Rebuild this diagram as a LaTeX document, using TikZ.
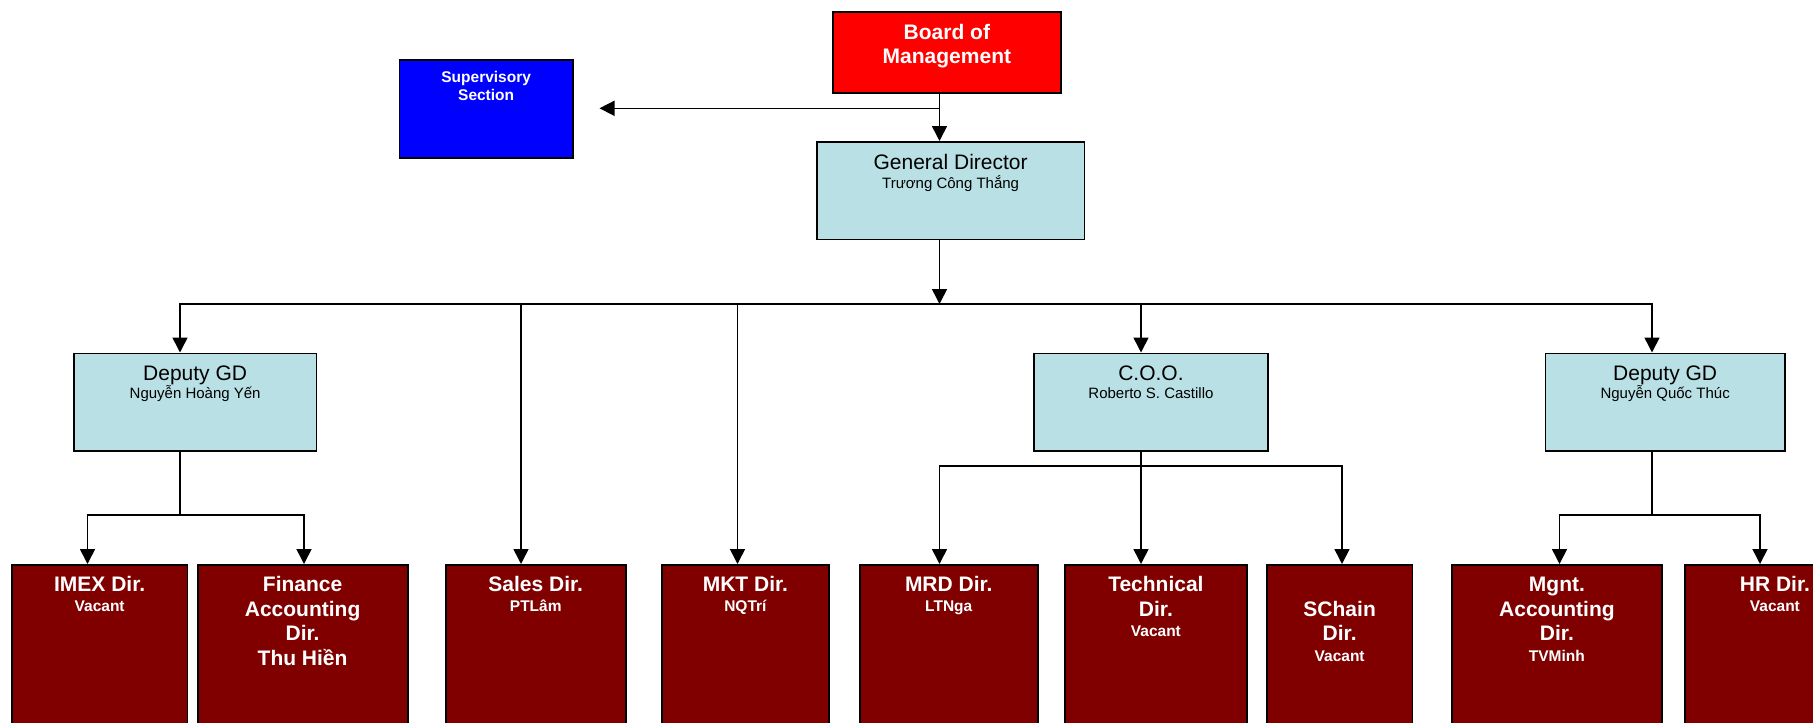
\documentclass[tikz,border=0pt]{standalone}
\usepackage{fontspec}
\setmainfont{Liberation Sans}
\usetikzlibrary{arrows.meta}

\definecolor{boardred}{RGB}{255,0,0}
\definecolor{supblue}{RGB}{0,0,255}
\definecolor{paleblue}{RGB}{185,224,228}
\definecolor{deptred}{RGB}{128,0,0}

\newcommand{\who}[1]{{\fontsize{15}{18}\selectfont #1}}
\newcommand{\held}[1]{{\fontsize{15.5}{18}\selectfont #1}}

\begin{document}
\begin{tikzpicture}[x=1pt, y=-1pt,
	wire/.style={line width=1.6pt},
	link/.style={wire, -{Triangle[width=15pt,length=15pt]}},
	unit/.style={draw=black, line width=1.8pt, inner sep=0pt, anchor=north west},
	dept/.style={unit, fill=deptred, minimum height=200pt},
	office/.style={unit, fill=paleblue, minimum height=97.5pt},
	caption/.style={anchor=base, align=flush center, text width=240pt, inner sep=0pt},
	boardtxt/.style={caption, text=white, font=\bfseries\fontsize{21}{24}\selectfont},
	suptxt/.style={caption, text=white, font=\bfseries\fontsize{15.5}{18}\selectfont},
	officetxt/.style={caption, font=\fontsize{21}{25}\selectfont},
	depttxt/.style={caption, text=white, font=\bfseries\fontsize{21}{24.5}\selectfont}]
	\useasboundingbox (0,0) rectangle (1813,723);

	% top level
	\node[unit, fill=boardred, minimum width=228pt, minimum height=81pt] (board) at (832,11) {};
	\node[unit, fill=supblue, minimum width=173.5pt, minimum height=98pt] (super) at (398.5,59.3) {};
	\node[office, minimum width=267.5pt] (gd) at (816,141) {};

	% second level
	\node[office, minimum width=242.5pt] (dgl) at (73,352.5) {};
	\node[office, minimum width=233.5pt] (coo) at (1033.3,352.5) {};
	\node[office, minimum width=239.5pt] (dgr) at (1544.5,352.5) {};

	% directors
	\node[dept, minimum width=175.5pt] (imex) at (11,564) {};
	\node[dept, minimum width=210pt] (fin) at (196.7,564) {};
	\node[dept, minimum width=180.3pt] (sales) at (444.7,564) {};
	\node[dept, minimum width=166.4pt] (mkt) at (661.3,564) {};
	\node[dept, minimum width=178.3pt] (mrd) at (858.7,564) {};
	\node[dept, minimum width=182pt] (tech) at (1064,564) {};
	\node[dept, minimum width=145.5pt] (schain) at (1266,564) {};
	\node[dept, minimum width=210pt] (mgnt) at (1451,564) {};
	\node[dept, minimum width=180pt] (hr) at (1684,564) {};

	% texts
	\node[boardtxt] (board-t) at ([yshift=-28pt]board.north) {Board of\\Management};
	\node[suptxt] (super-t) at ([yshift=-22.7pt]super.north) {Supervisory\\Section};
	\node[officetxt] (gd-t) at ([yshift=-28pt]gd.north) {General Director\\[-6pt]\who{Trương Công Thắng}};
	\node[officetxt] (dgl-t) at ([yshift=-27.5pt]dgl.north) {Deputy GD\\[-6.7pt]\who{Nguyễn Hoàng Yến}};
	\node[officetxt] (coo-t) at ([yshift=-27.5pt]coo.north) {C.O.O.\\[-6.7pt]\who{Roberto S. Castillo}};
	\node[officetxt] (dgr-t) at ([yshift=-27.5pt]dgr.north) {Deputy GD\\[-6.7pt]\who{Nguyễn Quốc Thúc}};

	\node[depttxt] (imex-t) at ([yshift=-27.7pt]imex.north) {IMEX Dir.\\[-5pt]\held{Vacant}};
	\node[depttxt] (fin-t) at ([yshift=-27.7pt]fin.north) {Finance\\Accounting\\Dir.\\Thu Hiền};
	\node[depttxt] (sales-t) at ([yshift=-27.7pt]sales.north) {Sales Dir.\\[-5pt]\held{PTLâm}};
	\node[depttxt] (mkt-t) at ([yshift=-27.7pt]mkt.north) {MKT Dir.\\[-5pt]\held{NQTrí}};
	\node[depttxt] (mrd-t) at ([yshift=-27.7pt]mrd.north) {MRD Dir.\\[-5pt]\held{LTNga}};
	\node[depttxt] (tech-t) at ([yshift=-27.7pt]tech.north) {Technical\\Dir.\\[-4pt]\held{Vacant}};
	\node[depttxt] (schain-t) at ([yshift=-52pt]schain.north) {SChain\\Dir.\\[-4pt]\held{Vacant}};
	\node[depttxt] (mgnt-t) at ([yshift=-27.7pt]mgnt.north) {Mgnt.\\Accounting\\Dir.\\[-4pt]\held{TVMinh}};
	\node[depttxt] (hr-t) at ([yshift=-27.7pt]hr.north) {HR Dir.\\[-5pt]\held{Vacant}};

	% junctions
	\coordinate (supend) at (599.5,108.3);
	\coordinate (bus) at (939.5,304);
	\coordinate (b-dgl) at (180,304);
	\coordinate (b-sales) at (521,304);
	\coordinate (b-mkt) at (737.5,304);
	\coordinate (b-coo) at (1141,304);
	\coordinate (b-dgr) at (1652,304);
	\coordinate (l-mid) at (180,515);
	\coordinate (l-imex) at (87.5,515);
	\coordinate (l-fin) at (304,515);
	\coordinate (c-mid) at (1141,466);
	\coordinate (c-mrd) at (939.5,466);
	\coordinate (c-schain) at (1342,466);
	\coordinate (r-mid) at (1652,515);
	\coordinate (r-mgnt) at (1559.5,515);
	\coordinate (r-hr) at (1760,515);

	% connectors
	\draw [link] (board.south -| bus) to (gd.north -| bus);
	\draw [link] (bus |- supend) to (supend);
	\draw [link] (gd.south -| bus) to (bus);
	\draw [link] (bus) -| (dgl.north -| b-dgl);
	\draw [link] (bus) -| (dgr.north -| b-dgr);
	\draw [link] (b-sales) to (sales.north -| b-sales);
	\draw [link] (b-mkt) to (mkt.north -| b-mkt);
	\draw [link] (b-coo) to (coo.north -| b-coo);

	\draw [wire] (dgl.south -| l-mid) to (l-mid);
	\draw [link] (l-mid) -| (imex.north -| l-imex);
	\draw [link] (l-mid) -| (fin.north -| l-fin);

	\draw [link] (coo.south -| c-mid) to (tech.north -| c-mid);
	\draw [link] (c-mid) -| (mrd.north -| c-mrd);
	\draw [link] (c-mid) -| (schain.north -| c-schain);

	\draw [wire] (dgr.south -| r-mid) to (r-mid);
	\draw [link] (r-mid) -| (mgnt.north -| r-mgnt);
	\draw [link] (r-mid) -| (hr.north -| r-hr);
\end{tikzpicture}
\end{document}
